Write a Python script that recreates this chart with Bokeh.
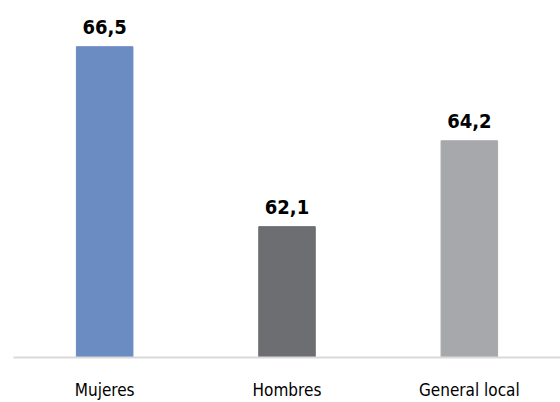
from bokeh.plotting import figure
from bokeh.models import ColumnDataSource, Range1d
from bokeh.core.properties import value
from bokeh.embed import file_html
from bokeh.resources import INLINE

categories = ["Mujeres", "Hombres", "General local"]
values = [66.5, 62.1, 64.2]
colors = ["#6b8bc3", "#6d6e71", "#a7a8ab"]
labels = [f"{v:.1f}".replace(".", ",") for v in values]

y_start = 58.9
y_end = 67.63

FONT = "'DejaVu Sans Condensed', 'Liberation Sans', sans-serif"

src = ColumnDataSource(dict(cat=categories, val=values, color=colors, label=labels))

p = figure(x_range=categories, y_range=Range1d(y_start, y_end), width=560, height=402,
           output_backend="svg", toolbar_location=None,
           min_border_left=13, min_border_right=0, min_border_top=0, min_border_bottom=0)

p.vbar(x="cat", top="val", bottom=y_start, width=0.31, color="color", source=src)
p.text(x="cat", y="val", text="label", source=src, text_align="center", text_baseline="bottom",
       y_offset=-13, text_font=value(FONT), text_font_style="bold",
       text_font_size="20px", text_color="#000000")

p.yaxis.visible = False
p.xgrid.visible = False
p.ygrid.visible = False
p.outline_line_color = None
xa = p.xaxis[0]
xa.axis_line_color = "#d9d9d9"
xa.axis_line_width = 2
xa.major_tick_line_color = None
xa.minor_tick_line_color = None
xa.major_tick_out = 0
xa.major_tick_in = 0
xa.major_label_standoff = 22
xa.major_label_text_font = FONT
xa.major_label_text_font_size = "17px"
xa.major_label_text_color = "#000000"

open("out.html", "w").write(file_html(p, INLINE))
